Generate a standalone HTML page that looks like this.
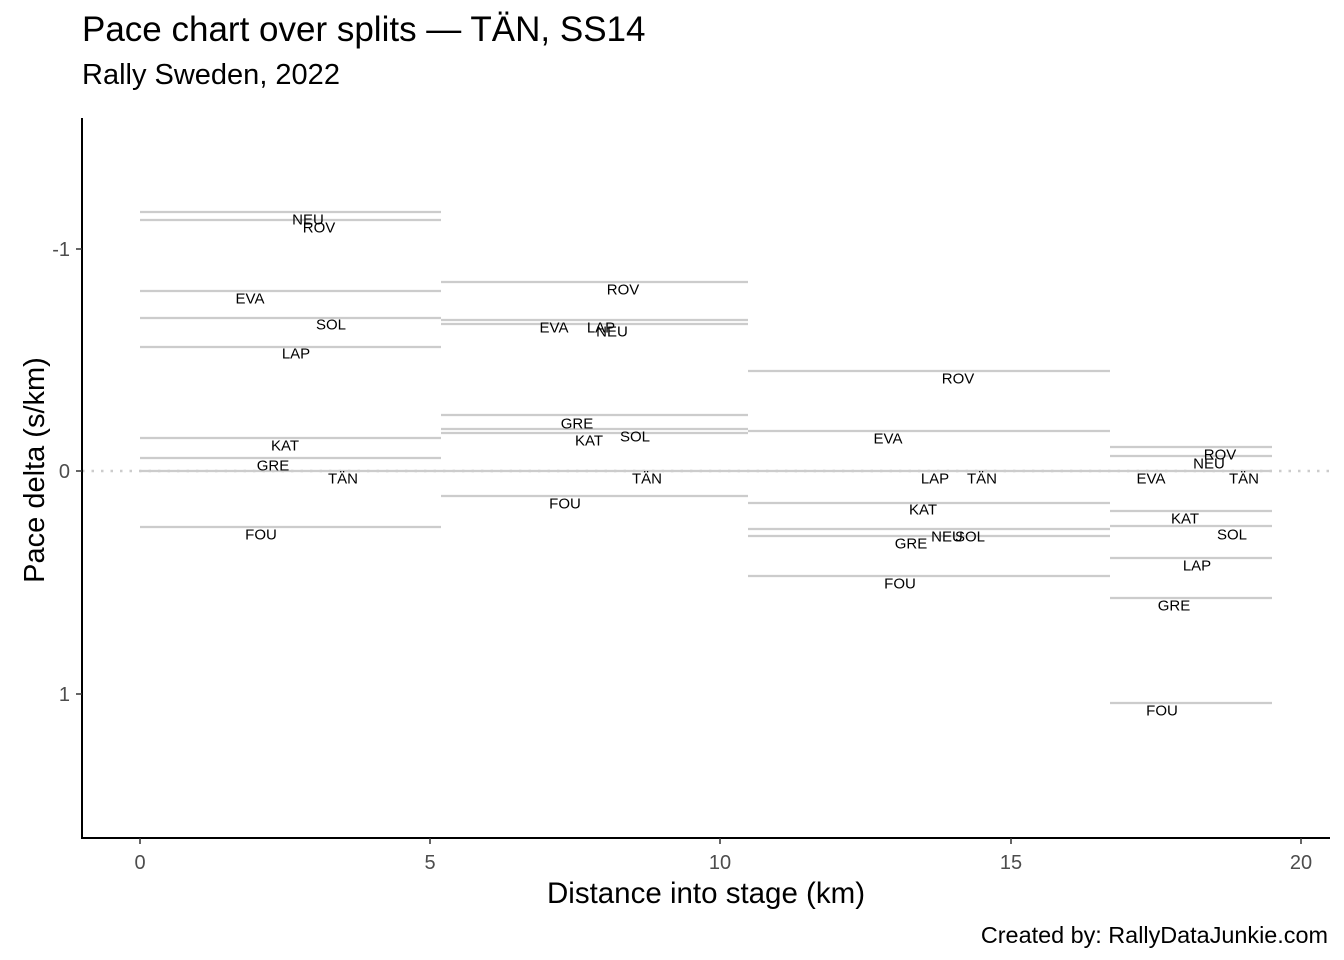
<!DOCTYPE html>
<html><head><meta charset="utf-8"><style>body{margin:0;background:#fff}svg{display:block}</style></head>
<body>
<svg width="1344" height="960" viewBox="0 0 1344 960" xmlns="http://www.w3.org/2000/svg" font-family="Liberation Sans, Arial, sans-serif">
<rect width="1344" height="960" fill="#fff"/>
<text x="82" y="41" font-size="35" fill="#000">Pace chart over splits — TÄN, SS14</text>
<text x="82" y="84" font-size="29" fill="#000">Rally Sweden, 2022</text>
<line x1="82" y1="471" x2="1330" y2="471" stroke="#ccc" stroke-width="2.5" stroke-dasharray="2.5,7"/>
<g stroke="#cccccc" stroke-width="2.2">
<line x1="140" x2="441" y1="212" y2="212"/><line x1="140" x2="441" y1="220" y2="220"/>
<line x1="140" x2="441" y1="291" y2="291"/><line x1="140" x2="441" y1="318" y2="318"/>
<line x1="140" x2="441" y1="347" y2="347"/><line x1="140" x2="441" y1="438" y2="438"/>
<line x1="140" x2="441" y1="458" y2="458"/><line x1="140" x2="441" y1="471" y2="471"/>
<line x1="140" x2="441" y1="527" y2="527"/>
<line x1="441" x2="748" y1="282" y2="282"/><line x1="441" x2="748" y1="320" y2="320"/>
<line x1="441" x2="748" y1="324" y2="324"/><line x1="441" x2="748" y1="415" y2="415"/>
<line x1="441" x2="748" y1="429" y2="429"/><line x1="441" x2="748" y1="433" y2="433"/>
<line x1="441" x2="748" y1="471" y2="471"/><line x1="441" x2="748" y1="496" y2="496"/>
<line x1="748" x2="1110" y1="371" y2="371"/><line x1="748" x2="1110" y1="431" y2="431"/>
<line x1="748" x2="1110" y1="471" y2="471"/><line x1="748" x2="1110" y1="503" y2="503"/>
<line x1="748" x2="1110" y1="529" y2="529"/><line x1="748" x2="1110" y1="536" y2="536"/>
<line x1="748" x2="1110" y1="576" y2="576"/>
<line x1="1110" x2="1272" y1="447" y2="447"/><line x1="1110" x2="1272" y1="456" y2="456"/>
<line x1="1110" x2="1272" y1="471" y2="471"/><line x1="1110" x2="1272" y1="511" y2="511"/>
<line x1="1110" x2="1272" y1="526" y2="526"/><line x1="1110" x2="1272" y1="558" y2="558"/>
<line x1="1110" x2="1272" y1="598" y2="598"/><line x1="1110" x2="1272" y1="703" y2="703"/>
</g>
<g font-size="15" fill="#000" text-anchor="middle" dominant-baseline="central">
<text x="308" y="220">NEU</text><text x="319" y="228">ROV</text><text x="250" y="299">EVA</text>
<text x="331" y="325">SOL</text><text x="296" y="354">LAP</text><text x="285" y="446">KAT</text>
<text x="273" y="466">GRE</text><text x="343" y="479">TÄN</text><text x="261" y="535">FOU</text>
<text x="623" y="290">ROV</text><text x="554" y="328">EVA</text><text x="601" y="328">LAP</text>
<text x="612" y="332">NEU</text><text x="577" y="424">GRE</text><text x="589" y="441">KAT</text>
<text x="635" y="437">SOL</text><text x="647" y="479">TÄN</text><text x="565" y="504">FOU</text>
<text x="958" y="379">ROV</text><text x="888" y="439">EVA</text><text x="935" y="479">LAP</text>
<text x="982" y="479">TÄN</text><text x="923" y="510">KAT</text><text x="947" y="537">NEU</text>
<text x="970" y="537">SOL</text><text x="911" y="544">GRE</text><text x="900" y="584">FOU</text>
<text x="1220" y="455">ROV</text><text x="1209" y="464">NEU</text><text x="1151" y="479">EVA</text>
<text x="1244" y="479">TÄN</text><text x="1185" y="519">KAT</text><text x="1232" y="535">SOL</text>
<text x="1197" y="566">LAP</text><text x="1174" y="606">GRE</text><text x="1162" y="711">FOU</text>
</g>
<line x1="82" y1="118" x2="82" y2="839" stroke="#000" stroke-width="2"/>
<line x1="81" y1="838" x2="1330" y2="838" stroke="#000" stroke-width="2"/>
<g stroke="#333" stroke-width="1.5">
<line x1="76" x2="82" y1="249" y2="249"/><line x1="76" x2="82" y1="471" y2="471"/><line x1="76" x2="82" y1="694" y2="694"/>
<line x1="140" x2="140" y1="838" y2="844"/><line x1="430" x2="430" y1="838" y2="844"/><line x1="720" x2="720" y1="838" y2="844"/><line x1="1011" x2="1011" y1="838" y2="844"/><line x1="1301" x2="1301" y1="838" y2="844"/>
</g>
<g font-size="20" fill="#4d4d4d">
<g text-anchor="end" dominant-baseline="central"><text x="70" y="250">-1</text><text x="70" y="472">0</text><text x="70" y="695">1</text></g>
<g text-anchor="middle"><text x="140" y="869">0</text><text x="430" y="869">5</text><text x="720" y="869">10</text><text x="1011" y="869">15</text><text x="1301" y="869">20</text></g>
</g>
<text x="706" y="903" font-size="29.5" text-anchor="middle">Distance into stage (km)</text>
<text transform="translate(44,470) rotate(-90)" font-size="29" text-anchor="middle">Pace delta (s/km)</text>
<text x="1328" y="943" font-size="23.4" text-anchor="end">Created by: RallyDataJunkie.com</text>
</svg>
</body></html>
